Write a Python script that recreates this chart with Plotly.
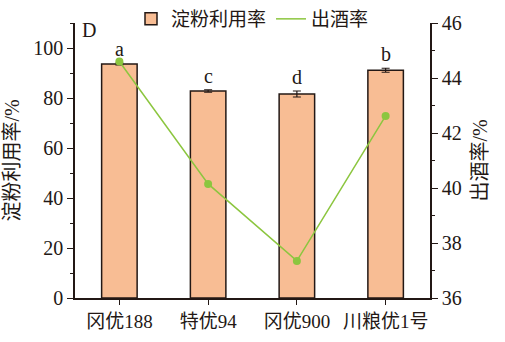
import plotly.graph_objects as go

categories = ["冈优188", "特优94", "冈优900", "川粮优1号"]
starch_use = [93.6, 82.8, 81.6, 91.1]
starch_err = [0.4, 0.5, 1.2, 0.8]
letters = ["a", "c", "d", "b"]
liquor_yield = [44.6, 40.15, 37.35, 42.62]

FONT = "Liberation Serif, Noto Sans CJK SC, serif"
BAR = "#F8BD94"
EDGE = "#231815"
GREEN = "#8CC63F"

fig = go.Figure()
fig.add_trace(go.Bar(
    x=categories, y=starch_use, name="淀粉利用率", width=0.4,
    marker=dict(color=BAR, line=dict(color=EDGE, width=1.5)),
    error_y=dict(type="data", array=starch_err, color=EDGE, thickness=1.2, width=4),
))
fig.add_trace(go.Scatter(
    x=categories, y=liquor_yield, name="出酒率", yaxis="y2", mode="lines+markers",
    line=dict(color=GREEN, width=1.5), marker=dict(color=GREEN, size=8), showlegend=False,
))
fig.add_trace(go.Scatter(
    x=[None], y=[None], name="出酒率", yaxis="y2", mode="lines",
    line=dict(color=GREEN, width=1.5),
))

for c, v, e, t in zip(categories, starch_use, starch_err, letters):
    fig.add_annotation(x=c, y=v + e, text=t, showarrow=False, yanchor="bottom",
                       yshift=1, font=dict(family=FONT, size=20, color="#231815"))

fig.add_annotation(xref="paper", yref="paper", x=0, y=1, text="D", showarrow=False,
                   xanchor="left", yanchor="top", xshift=5, yshift=6,
                   font=dict(family=FONT, size=20, color="#231815"))

axis_common = dict(showline=True, linecolor=EDGE, linewidth=1.5, ticks="outside",
                   tickcolor=EDGE, ticklen=6, tickwidth=1.2, showgrid=False, zeroline=False,
                   tickfont=dict(family=FONT, size=20, color="#231815"))

fig.update_layout(
    width=505, height=342, margin=dict(l=75, r=75, t=23, b=44, autoexpand=False),
    paper_bgcolor="white", plot_bgcolor="white",
    font=dict(family=FONT, size=20, color="#231815"),
    showlegend=True,
    legend=dict(orientation="h", x=0.5, xanchor="center", xref="container",
                y=1.0, yanchor="top", yref="container", font=dict(family=FONT, size=19),
                bgcolor="rgba(0,0,0,0)", itemwidth=30, tracegroupgap=0),
    xaxis=dict(range=[-0.5, 3.5], showline=True, linecolor=EDGE, linewidth=1.5,
               ticks="outside", tickcolor=EDGE, ticklen=5, tickwidth=1.2, showgrid=False,
               tickfont=dict(family=FONT, size=19, color="#231815"), ticklabelstandoff=0,
               minor=dict(ticks="outside", ticklen=3, tickcolor=EDGE, dtick=0.5, tick0=-0.5)),
    yaxis=dict(range=[0, 110], tickvals=[0, 20, 40, 60, 80, 100],
               title=dict(text="淀粉利用率/%", font=dict(family=FONT, size=20), standoff=8),
               minor=dict(ticks="outside", ticklen=3, tickcolor=EDGE, dtick=10, tick0=0),
               **axis_common),
    yaxis2=dict(range=[36, 46], overlaying="y", side="right", dtick=2,
                title=dict(text="出酒率/%", font=dict(family=FONT, size=20), standoff=12),
                minor=dict(ticks="outside", ticklen=3, tickcolor=EDGE, dtick=1, tick0=36),
                **axis_common),
)

fig.write_html("out.html")
